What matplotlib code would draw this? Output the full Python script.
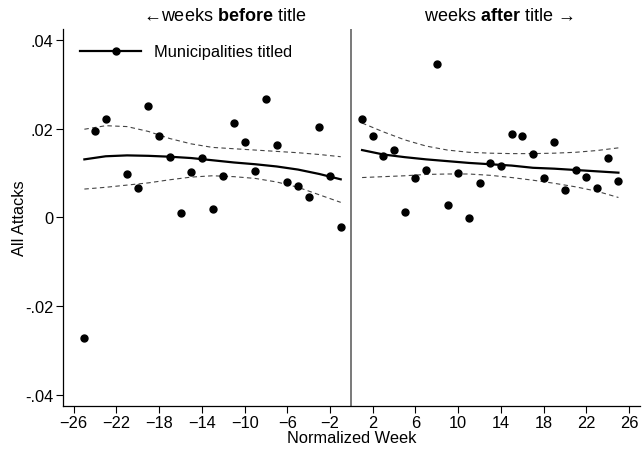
import matplotlib
matplotlib.use('Agg')
import matplotlib.pyplot as plt
from matplotlib.lines import Line2D
from matplotlib.ticker import FuncFormatter
import numpy as np

plt.rcParams['font.family'] = ['Liberation Sans', 'DejaVu Sans']
plt.rcParams['mathtext.fontset'] = 'custom'
plt.rcParams['mathtext.rm'] = 'Liberation Sans'
plt.rcParams['mathtext.bf'] = 'Liberation Sans:bold'

# weekly points
weeks_before = list(range(-25, 0))
attacks_before = [-0.0273, 0.0195, 0.0223, 0.0375, 0.0099, 0.0066, 0.0252, 0.0183, 0.0136,
                  0.0011, 0.0102, 0.0133, 0.0018, 0.0093, 0.0213, 0.0171, 0.0105, 0.0268,
                  0.0164, 0.0080, 0.0072, 0.0045, 0.0205, 0.0093, -0.0021]
weeks_after = list(range(1, 26))
attacks_after = [0.0223, 0.0184, 0.0138, 0.0152, 0.0013, 0.0090, 0.0107, 0.0347, 0.0029,
                 0.0100, -0.0002, 0.0077, 0.0122, 0.0115, 0.0188, 0.0183, 0.0143, 0.0090,
                 0.0170, 0.0061, 0.0106, 0.0092, 0.0066, 0.0135, 0.0083]

# smoothed fit + CI, read every other week
fit_weeks_before = list(range(-25, 0, 2))
fit_before = [0.0131, 0.0138, 0.0140, 0.0139, 0.0137, 0.0134, 0.0129,
              0.0124, 0.0120, 0.0115, 0.0108, 0.0098, 0.0086]
hi_before = [0.0199, 0.0207, 0.0205, 0.0194, 0.0178, 0.0166, 0.0158,
             0.0155, 0.0152, 0.0149, 0.0146, 0.0142, 0.0137]
lo_before = [0.0064, 0.0068, 0.0073, 0.0078, 0.0085, 0.0091, 0.0094,
             0.0092, 0.0088, 0.0080, 0.0068, 0.0051, 0.0034]

fit_weeks_after = list(range(1, 26, 2))
fit_after = [0.0152, 0.0142, 0.0136, 0.0131, 0.0127, 0.0123, 0.0120,
             0.0117, 0.0112, 0.0110, 0.0107, 0.0104, 0.0101]
hi_after = [0.0213, 0.0193, 0.0175, 0.0161, 0.0152, 0.0147, 0.0145,
            0.0144, 0.0144, 0.0145, 0.0147, 0.0151, 0.0157]
lo_after = [0.0090, 0.0092, 0.0094, 0.0097, 0.0098, 0.0098, 0.0095,
            0.0090, 0.0084, 0.0077, 0.0069, 0.0059, 0.0045]

x_ticks = list(range(-26, 27, 4))
y_ticks = [-0.04, -0.02, 0, 0.02, 0.04]

fig = plt.figure(figsize=(6.43, 4.56), dpi=100)
ax = fig.add_axes([0.098, 0.108, 0.897, 0.826])

for w, v in [(weeks_before, attacks_before), (weeks_after, attacks_after)]:
	ax.plot(w, v, 'o', color='black', markersize=5, zorder=3)

for w, f, hi, lo in [(fit_weeks_before, fit_before, hi_before, lo_before),
                     (fit_weeks_after, fit_after, hi_after, lo_after)]:
	ax.plot(w, f, '-', color='black', linewidth=1.6, zorder=2)
	ax.plot(w, hi, '--', color='#444444', linewidth=0.8, dashes=(4, 3), zorder=2)
	ax.plot(w, lo, '--', color='#444444', linewidth=0.8, dashes=(4, 3), zorder=2)

ax.axvline(0, color='#555555', linewidth=1.1, zorder=1)

ax.set_xlim(-27, 27)
ax.set_ylim(-0.0425, 0.0425)
ax.set_xticks(x_ticks)
ax.set_yticks(y_ticks)

def fmt(v, pos):
	if abs(v) < 1e-9:
		return '0'
	s = '%.2f' % v
	return s.replace('0.', '.')

ax.yaxis.set_major_formatter(FuncFormatter(fmt))
ax.tick_params(direction='out', length=5, width=0.8, labelsize=11.8, colors='black', pad=2)
ax.spines['top'].set_visible(False)
ax.spines['right'].set_visible(False)
ax.spines['left'].set_linewidth(0.9)
ax.spines['bottom'].set_linewidth(0.9)

ax.set_xlabel('Normalized Week', fontsize=11.8, labelpad=0)
ax.set_ylabel('All Attacks', fontsize=11.8, labelpad=-1.5)

handle = Line2D([], [], color='black', linewidth=1.6)
ax.legend([handle], ['Municipalities titled'], loc='upper left', frameon=False,
          fontsize=11.8, handlelength=3.7, handletextpad=0.8, borderaxespad=0.3,
          bbox_to_anchor=(0.01, 0.99))

fig.text(0.350, 0.964, '\u2190weeks $\\mathbf{before}$ title', ha='center', va='center',
         fontsize=13)
fig.text(0.775, 0.964, 'weeks $\\mathbf{after}$ title \u2192', ha='center', va='center',
         fontsize=13)

fig.savefig('out.png', dpi=100)
